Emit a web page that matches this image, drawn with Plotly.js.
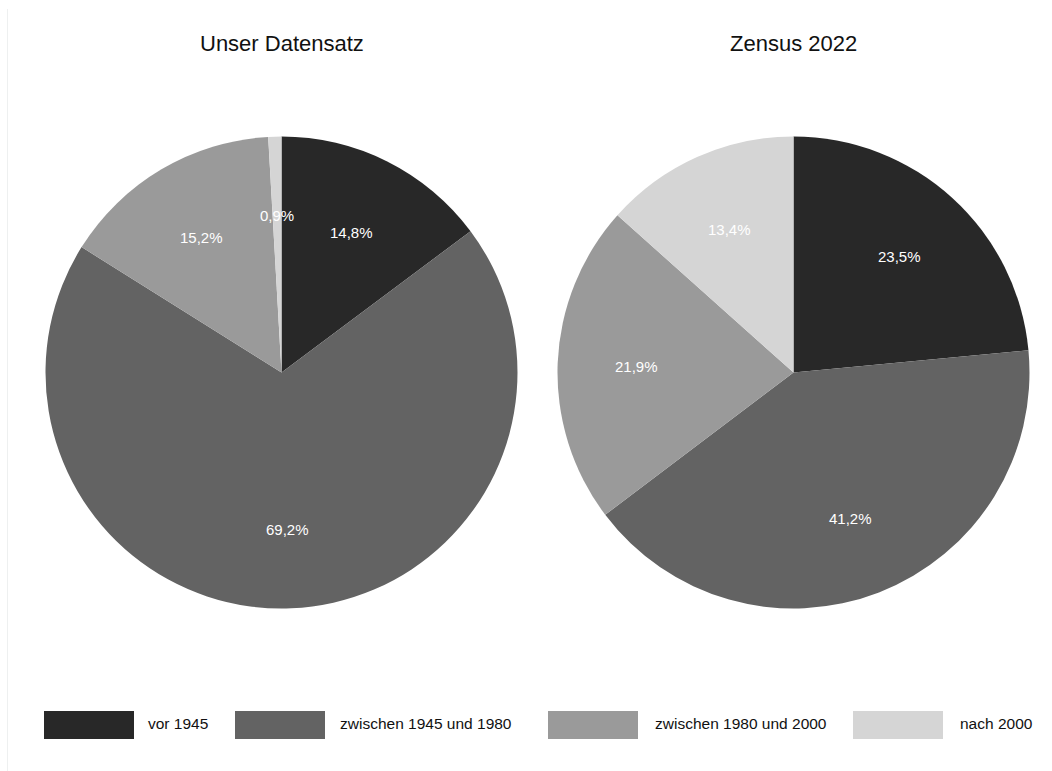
<!DOCTYPE html>
<html>
<head>
<meta charset="utf-8">
<script src="https://cdn.plot.ly/plotly-3.0.1.min.js"></script>
<style>html,body{margin:0;padding:0;background:#fff;}#chart{width:1052px;height:771px;}</style>
</head>
<body>
<div id="chart"></div>
<script>
// Data
const categories = ["vor 1945", "zwischen 1945 und 1980", "zwischen 1980 und 2000", "nach 2000"];
const datensatzValues = [14.8, 69.2, 15.2, 0.9];
const zensusValues = [23.5, 41.2, 21.9, 13.4];
const pieTitles = ["Unser Datensatz", "Zensus 2022"];
const sliceColors = ["#282828", "#636363", "#9a9a9a", "#d5d5d5"];

// Geometry (pixels)
const W = 1052, H = 771;
const R = 236, CY = 372.5;
const centersX = [281.5, 793.5];
const FONT = "Liberation Sans, Arial, sans-serif";

function fmt(v) { return v.toFixed(1).replace(".", ",") + "%"; }

const seriesList = [datensatzValues, zensusValues];
const traces = seriesList.map((vals, i) => ({
  type: "pie",
  values: vals,
  labels: categories,
  sort: false,
  direction: "clockwise",
  rotation: 0,
  marker: { colors: sliceColors, line: { width: 0 } },
  textinfo: "none",
  hoverinfo: "label+percent",
  showlegend: false,
  domain: {
    x: [(centersX[i] - R) / W, (centersX[i] + R) / W],
    y: [1 - (CY + R) / H, 1 - (CY - R) / H]
  }
}));

const annotations = [];
// slice percentage labels, positioned from the data
seriesList.forEach((vals, i) => {
  const total = vals.reduce((a, b) => a + b, 0);
  let cum = 0;
  vals.forEach(v => {
    const mid = (cum + v / 2) / total * 2 * Math.PI;
    cum += v;
    const px = centersX[i] + 0.665 * R * Math.sin(mid);
    const py = CY - 0.665 * R * Math.cos(mid);
    annotations.push({
      xref: "paper", yref: "paper", x: px / W, y: 1 - py / H,
      xanchor: "center", yanchor: "middle", showarrow: false,
      text: fmt(v), font: { family: FONT, size: 15, color: "#ffffff" }
    });
  });
  annotations.push({
    xref: "paper", yref: "paper", x: centersX[i] / W, y: 1 - 43 / H,
    xanchor: "center", yanchor: "middle", showarrow: false,
    text: pieTitles[i], font: { family: FONT, size: 22, color: "#111111" }
  });
});

// legend built from categories and colours
const swatchX = [44, 235, 548, 853];
const labelX = [146, 338, 653, 958];
const shapes = [{
  type: "line", xref: "paper", yref: "paper",
  x0: 7.5 / W, x1: 7.5 / W, y0: 0, y1: 1 - 9 / H,
  line: { color: "#eef0f0", width: 1 }
}];
categories.forEach((c, k) => {
  shapes.push({
    type: "rect", xref: "paper", yref: "paper",
    x0: swatchX[k] / W, x1: (swatchX[k] + 90) / W,
    y0: 1 - 739 / H, y1: 1 - 711 / H,
    fillcolor: sliceColors[k], line: { width: 0 }
  });
  annotations.push({
    xref: "paper", yref: "paper", x: labelX[k] / W, y: 1 - 723 / H,
    xanchor: "left", yanchor: "middle", showarrow: false,
    text: c, font: { family: FONT, size: 15.5, color: "#111111" }
  });
});

const layout = {
  width: W, height: H,
  margin: { l: 0, r: 0, t: 0, b: 0 },
  paper_bgcolor: "#ffffff",
  showlegend: false,
  annotations: annotations,
  shapes: shapes
};

Plotly.newPlot("chart", traces, layout, { displayModeBar: false, staticPlot: true });
</script>
</body>
</html>
